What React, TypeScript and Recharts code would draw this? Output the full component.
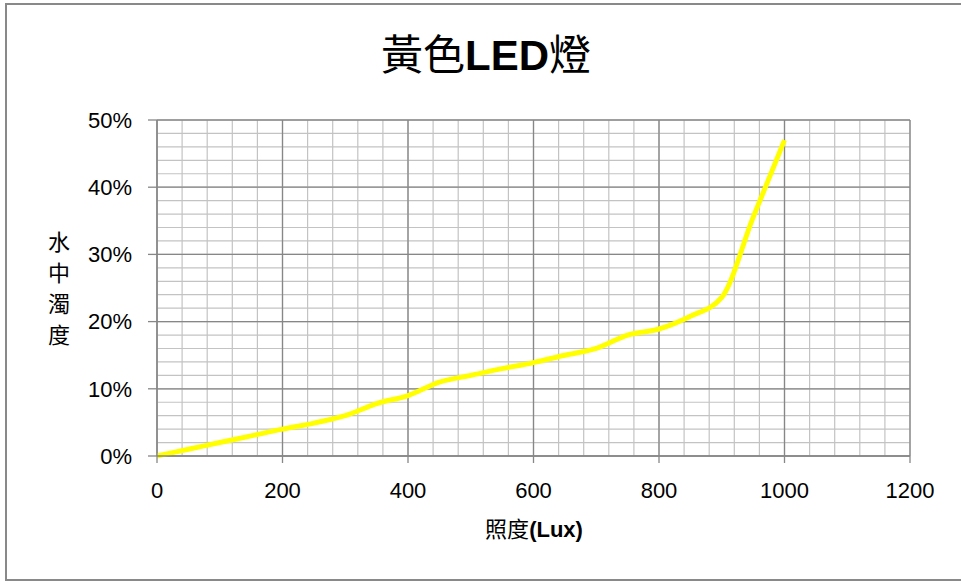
import React from 'react';
import { LineChart, Line, XAxis, YAxis, CartesianGrid } from 'recharts';

// ---- data ----
const luxValues = [0, 50, 100, 150, 200, 250, 300, 350, 400, 450, 500, 550, 600, 650, 700, 750, 800, 850, 900, 950, 1000];
const turbidity = [0, 0.01, 0.02, 0.03, 0.04, 0.049, 0.06, 0.078, 0.09, 0.11, 0.12, 0.13, 0.139, 0.15, 0.16, 0.18, 0.189, 0.208, 0.236, 0.355, 0.47];

const xTicks = [0, 200, 400, 600, 800, 1000, 1200];
const yTicks = [0, 0.1, 0.2, 0.3, 0.4, 0.5];
const xMinorGrid = [0, 40, 80, 120, 160, 200, 240, 280, 320, 360, 400, 440, 480, 520, 560, 600, 640, 680, 720, 760, 800, 840, 880, 920, 960, 1000, 1040, 1080, 1120, 1160, 1200];
const yMinorGrid = [0, 0.02, 0.04, 0.06, 0.08, 0.1, 0.12, 0.14, 0.16, 0.18, 0.2, 0.22, 0.24, 0.26, 0.28, 0.3, 0.32, 0.34, 0.36, 0.38, 0.4, 0.42, 0.44, 0.46, 0.48, 0.5];

const titleStart = '黃色';
const titleBold = 'LED';
const titleEnd = '燈';
const yAxisTitle = '水中濁度';
const xAxisTitleCjk = '照度';
const xAxisTitleLatin = '(Lux)';

const data = luxValues.map((x, i) => ({ lux: x, value: turbidity[i] }));

const LATIN = '"Liberation Sans", "Noto Sans CJK TC", sans-serif';
const CJK = '"Noto Sans CJK TC", "Liberation Sans", sans-serif';

export default function App() {
  return (
    <div style={{ position: 'absolute', left: 0, top: 0, width: 961, height: 581, background: '#fff', overflow: 'hidden' }}>
      <div
        style={{
          position: 'absolute',
          left: 5,
          top: 3,
          width: 960,
          height: 574,
          borderLeft: '2px solid #898989',
          borderTop: '2px solid #898989',
          borderBottom: '2px solid #898989',
        }}
      />
      <LineChart
        width={961}
        height={581}
        data={data}
        margin={{ top: 120, right: 51, left: 0, bottom: 0 }}
        style={{ position: 'absolute', left: 0, top: 0 }}
      >
        <CartesianGrid
          stroke="#c3c3c3"
          strokeWidth={1.2}
          verticalValues={xMinorGrid}
          horizontalValues={yMinorGrid}
        />
        <CartesianGrid
          stroke="#878787"
          strokeWidth={1.3}
          verticalValues={xTicks}
          horizontalValues={yTicks}
        />
        <XAxis
          dataKey="lux"
          type="number"
          domain={[0, 1200]}
          ticks={xTicks}
          height={125}
          tickSize={7}
          tickMargin={19}
          axisLine={{ stroke: '#878787', strokeWidth: 1.3 }}
          tickLine={{ stroke: '#878787', strokeWidth: 1.3 }}
          tick={{ fill: '#000', fontSize: 22, fontFamily: LATIN }}
          interval={0}
        />
        <YAxis
          type="number"
          domain={[0, 0.5]}
          ticks={yTicks}
          width={157}
          tickSize={9}
          tickMargin={16}
          axisLine={{ stroke: '#878787', strokeWidth: 1.3 }}
          tickLine={{ stroke: '#878787', strokeWidth: 1.3 }}
          tick={{ fill: '#000', fontSize: 22, fontFamily: LATIN }}
          tickFormatter={(v: number) => `${Math.round(v * 100)}%`}
          interval={0}
        />
        <Line
          type="monotone"
          dataKey="value"
          stroke="#FFFF00"
          strokeWidth={5}
          dot={false}
          activeDot={false}
          isAnimationActive={false}
        />
      </LineChart>
      <div
        style={{
          position: 'absolute',
          left: 486,
          top: 31,
          transform: 'translateX(-50%)',
          whiteSpace: 'nowrap',
          fontSize: 42,
          lineHeight: '42px',
          color: '#000',
        }}
      >
        <span style={{ fontFamily: CJK }}>{titleStart}</span>
        <span style={{ fontFamily: LATIN, fontWeight: 'bold' }}>{titleBold}</span>
        <span style={{ fontFamily: CJK }}>{titleEnd}</span>
      </div>
      <div
        style={{
          position: 'absolute',
          left: 48,
          top: 231,
          writingMode: 'vertical-rl',
          fontFamily: CJK,
          fontSize: 22,
          lineHeight: '22px',
          letterSpacing: 9,
          color: '#000',
        }}
      >
        {yAxisTitle}
      </div>
      <div
        style={{
          position: 'absolute',
          left: 534,
          top: 516,
          transform: 'translateX(-50%)',
          whiteSpace: 'nowrap',
          fontSize: 22,
          lineHeight: '22px',
          color: '#000',
        }}
      >
        <span style={{ fontFamily: CJK }}>{xAxisTitleCjk}</span>
        <span style={{ fontFamily: LATIN, fontWeight: 'bold' }}>{xAxisTitleLatin}</span>
      </div>
    </div>
  );
}
